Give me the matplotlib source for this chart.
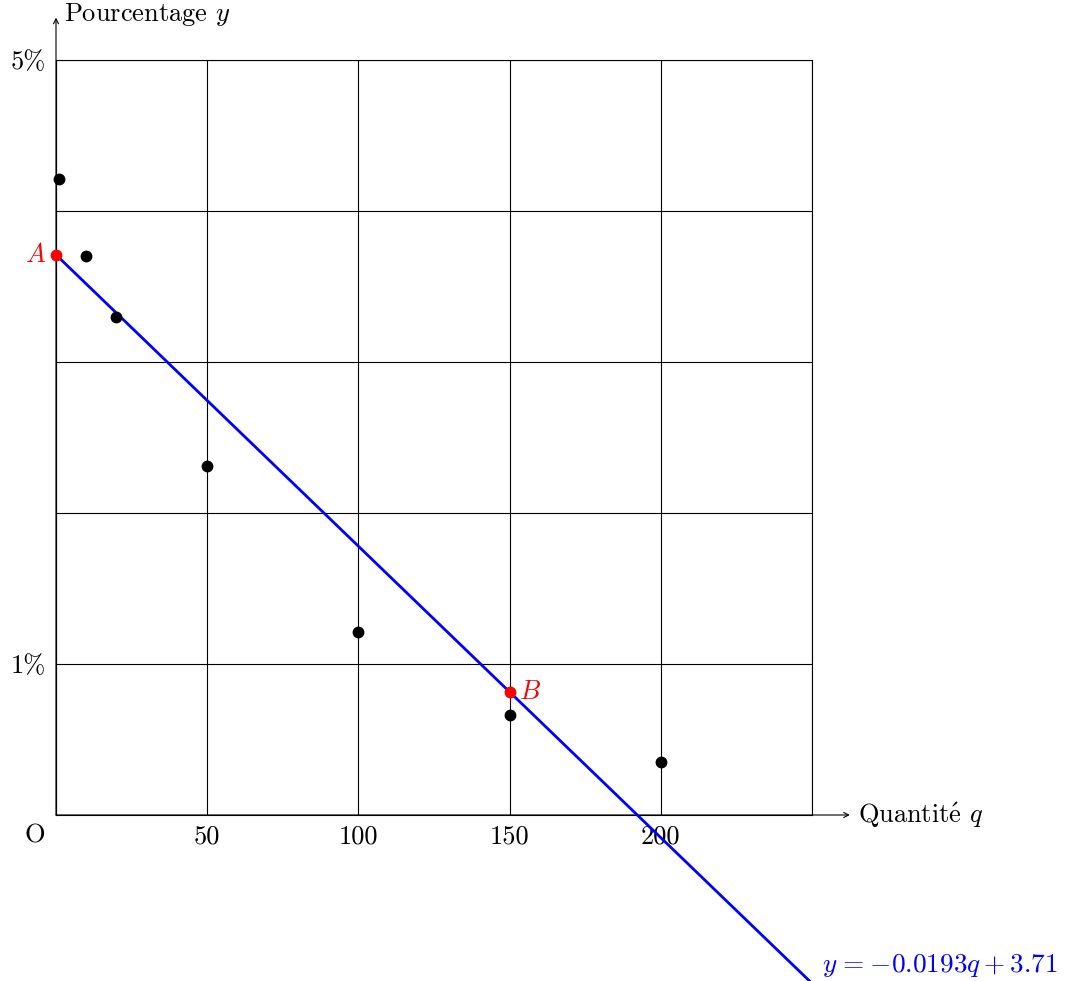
import matplotlib
matplotlib.use("Agg")
import matplotlib.pyplot as plt
import numpy as np

plt.rcParams['font.family'] = ['cmr10', 'DejaVu Serif']
plt.rcParams['mathtext.fontset'] = 'cm'
plt.rcParams['axes.unicode_minus'] = False

# data
q_points = [1, 10, 20, 50, 100, 150, 200]
y_points = [4.21, 3.70, 3.30, 2.31, 1.21, 0.66, 0.35]
slope = -0.0193
intercept = 3.71
q_A, q_B = 0, 150
x_grid = [0, 50, 100, 150, 200, 250]
y_grid = [0, 1, 2, 3, 4, 5]
x_tick_vals = [50, 100, 150, 200]
x_tick_labels = ["50", "100", "150", "200"]
y_tick_vals = [1, 5]
y_tick_labels = ["1%", "5%"]

FS = 19
W, H = 1076, 981
fig = plt.figure(figsize=(W / 100, H / 100), dpi=100)
ax = fig.add_axes([56 / W, (H - 815) / H, (812 - 56) / W, (815 - 60) / H])
ax.set_xlim(0, 250)
ax.set_ylim(0, 5)

for s in ax.spines.values():
    s.set_linewidth(0.8)
    s.set_color('black')

for xv in x_grid:
    ax.axvline(xv, color='black', lw=0.8, zorder=1)
for yv in y_grid:
    ax.axhline(yv, color='black', lw=0.8, zorder=1)

ax.set_xticks(x_tick_vals)
ax.set_xticklabels(x_tick_labels, fontsize=FS)
ax.set_yticks(y_tick_vals)
ax.set_yticklabels(y_tick_labels, fontsize=FS)
ax.tick_params(axis='both', length=0)
ax.tick_params(axis='x', pad=7)
ax.tick_params(axis='y', pad=7)

# origin label
ax.annotate("O", xy=(0, 0), xytext=(-15, -15), textcoords='offset points',
            ha='center', va='center', fontsize=FS, annotation_clip=False)

# axis arrows
ax.annotate("", xy=(1.05, 0), xytext=(0, 0), xycoords='axes fraction',
            arrowprops=dict(arrowstyle='->,head_length=0.35,head_width=0.18', lw=0.8, color='black',
                            shrinkA=0, shrinkB=0), annotation_clip=False)
ax.annotate("", xy=(0, 1.056), xytext=(0, 0), xycoords='axes fraction',
            arrowprops=dict(arrowstyle='->,head_length=0.35,head_width=0.18', lw=0.8, color='black',
                            shrinkA=0, shrinkB=0), annotation_clip=False)
ax.annotate(r"Quantit$\hspace{-0.148}\acute{\hspace{0.148}\mathrm{e}}$ $q$", xy=(1.05, 0),
            xycoords='axes fraction', xytext=(6, 0), textcoords='offset points',
            ha='left', va='center', fontsize=FS, annotation_clip=False)
ax.annotate(r"Pourcentage $y$", xy=(0, 1.056), xycoords='axes fraction',
            xytext=(6, 2), textcoords='offset points', ha='left', va='center',
            fontsize=FS, annotation_clip=False)

# regression line
q_line = np.array([0, 250])
ax.plot(q_line, slope * q_line + intercept, color='#0000ff', lw=2.0, clip_on=False, zorder=3)

# data points
ax.plot(q_points, y_points, 'o', color='black', ms=7.5, clip_on=False, zorder=4)

# A and B
yA = slope * q_A + intercept
yB = slope * q_B + intercept
ax.plot([q_A, q_B], [yA, yB], 'o', color='#ff0000', ms=7.5, clip_on=False, zorder=5)
ax.annotate(r"$A$", xy=(q_A, yA), xytext=(-7, 0), textcoords='offset points',
            ha='right', va='center', color='#ff0000', fontsize=FS, annotation_clip=False)
ax.annotate(r"$B$", xy=(q_B, yB), xytext=(7, 0), textcoords='offset points',
            ha='left', va='center', color='#ff0000', fontsize=FS, annotation_clip=False)

# equation label (font size fitted to the reference width of ~236 px)
eq = ax.annotate(r"$y\hspace{0.08}=\hspace{0.08}{-}0.0193q + 3.71$",
                 xy=(250, slope * 250 + intercept),
                 xytext=(7, 13), textcoords='offset points', ha='left', va='center',
                 color='#0000ff', fontsize=FS, annotation_clip=False)
renderer = fig.canvas.get_renderer()
w = eq.get_window_extent(renderer).width
eq.set_fontsize(FS * 236.0 / w)

fig.savefig("out.png", dpi=100)
